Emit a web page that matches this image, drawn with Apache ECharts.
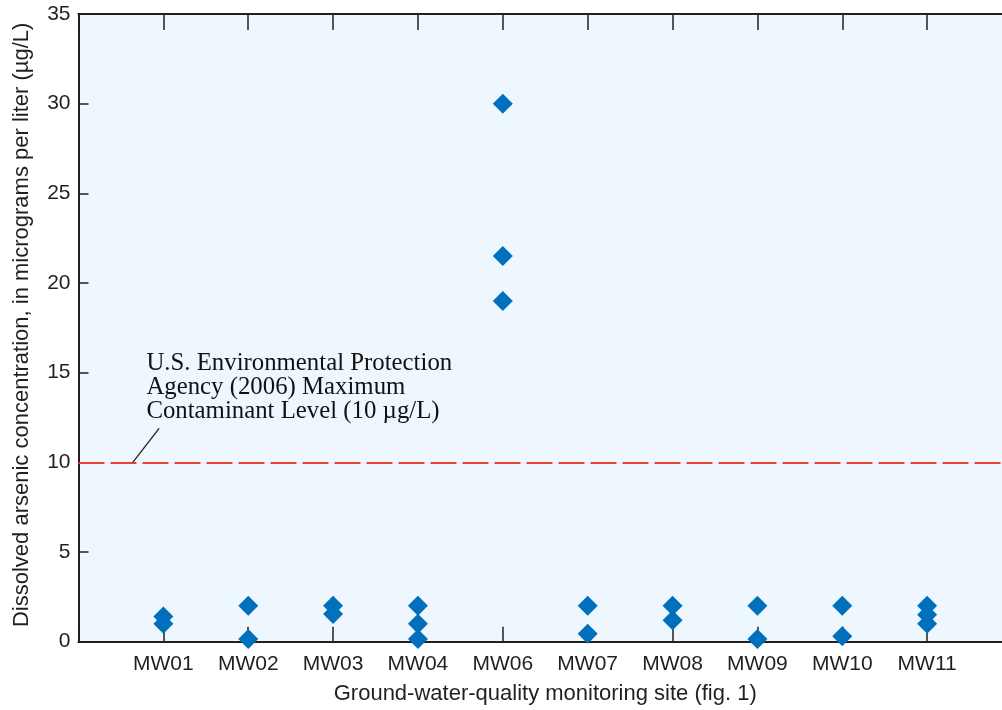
<!DOCTYPE html>
<html>
<head>
<meta charset="utf-8">
<script src="https://cdn.jsdelivr.net/npm/echarts@6/dist/echarts.min.js"></script>
<style>
  html, body { margin: 0; padding: 0; background: #ffffff; }
  #chart { width: 1002px; height: 710px; }
</style>
</head>
<body>
<div id="chart"></div>
<script>
// Monitoring sites along the x axis
const sites = ['MW01', 'MW02', 'MW03', 'MW04', 'MW06', 'MW07', 'MW08', 'MW09', 'MW10', 'MW11'];
// Dissolved arsenic samples per site, in micrograms per liter
const arsenic = [
  [1.4, 1.0],
  [2.0, 0.15],
  [2.0, 1.55],
  [2.0, 1.0, 0.15],
  [30.0, 21.5, 19.0],
  [2.0, 0.45],
  [2.0, 1.2],
  [2.0, 0.15],
  [2.0, 0.3],
  [2.0, 1.5, 1.0]
];
// EPA maximum contaminant level
const mclValue = 10;
const mclLabel = ['U.S. Environmental Protection', 'Agency (2006) Maximum', 'Contaminant Level (10 \u00b5g/L)'];
const yTicks = [0, 5, 10, 15, 20, 25, 30, 35];

const points = [];
arsenic.forEach((vals, i) => vals.forEach(v => points.push([i + 1, v])));

const ink = '#231f20';
const sansFont = '"Liberation Sans", Arial, sans-serif';

const chart = echarts.init(document.getElementById('chart'), null, { renderer: 'canvas' });

// Shared frame axis pieces: every side drawn as an axis line with inward ticks
const frameLine = { onZero: false, lineStyle: { color: ink, width: 2 } };

const option = {
  animation: false,
  grid: {
    left: 78.5, top: 14, right: -10, bottom: 68.3,
    show: true, backgroundColor: '#eef7fe', borderWidth: 0,
    containLabel: false, outerBoundsMode: 'none'
  },
  xAxis: [
    {
      type: 'value', min: 0, max: sites.length + 1, interval: 1,
      position: 'bottom',
      name: 'Ground-water-quality monitoring site (fig. 1)',
      nameLocation: 'middle', nameGap: 41,
      nameTextStyle: { color: ink, fontSize: 22, fontFamily: sansFont },
      axisLine: frameLine,
      axisTick: { inside: true, length: 15, lineStyle: { color: ink, width: 1.5 } },
      axisLabel: {
        color: ink, fontSize: 21, fontFamily: sansFont, margin: 12,
        formatter: v => (v >= 1 && v <= sites.length) ? sites[v - 1] : ''
      },
      splitLine: { show: false }
    },
    {
      type: 'value', min: 0, max: sites.length + 1, interval: 1,
      position: 'top',
      axisLine: frameLine,
      axisTick: { inside: true, length: 16, lineStyle: { color: ink, width: 1.5 } },
      axisLabel: { show: false },
      splitLine: { show: false }
    }
  ],
  yAxis: [
    {
      type: 'value', min: yTicks[0], max: yTicks[yTicks.length - 1], interval: 5,
      position: 'left',
      name: 'Dissolved arsenic concentration, in micrograms per liter (\u00b5g/L)',
      nameLocation: 'middle', nameGap: 46,
      nameTextStyle: { color: ink, fontSize: 22, fontFamily: sansFont, padding: [0, 0, 0, 6] },
      axisLine: frameLine,
      axisTick: { inside: true, length: 10, lineStyle: { color: ink, width: 1.5 } },
      axisLabel: { color: ink, fontSize: 21, fontFamily: sansFont, margin: 8 },
      splitLine: { show: false }
    },
    {
      type: 'value', min: yTicks[0], max: yTicks[yTicks.length - 1], interval: 5,
      position: 'right',
      axisLine: frameLine,
      axisTick: { inside: true, length: 10, lineStyle: { color: '#888888', width: 1.5 } },
      axisLabel: { show: false },
      splitLine: { show: false }
    }
  ],
  series: [
    {
      type: 'scatter',
      data: points,
      symbol: 'diamond',
      symbolSize: 20,
      clip: false,
      z: 5,
      itemStyle: { color: '#0070bd', opacity: 1 },
      markLine: {
        silent: true,
        symbol: 'none',
        label: { show: false },
        data: [
          {
            yAxis: mclValue,
            lineStyle: { color: '#e8413c', width: 2, type: [26, 6] }
          },
          [
            { coord: [0.64, mclValue], lineStyle: { color: ink, width: 1.3, type: 'solid' } },
            { coord: [0.95, 11.9] }
          ]
        ]
      }
    }
  ]
};

chart.setOption(option);

// MCL annotation text, placed in data coordinates above the leader line
const origin = chart.convertToPixel({ gridIndex: 0 }, [0.8, 14.8]);
chart.setOption({
  graphic: mclLabel.map((line, k) => ({
    type: 'text',
    x: origin[0],
    y: origin[1] + k * 23.8,
    z: 10,
    style: {
      text: line,
      fill: '#111111',
      font: '24.8px "Liberation Serif", "Times New Roman", serif',
      textAlign: 'left',
      textVerticalAlign: 'bottom'
    }
  }))
});
</script>
</body>
</html>
